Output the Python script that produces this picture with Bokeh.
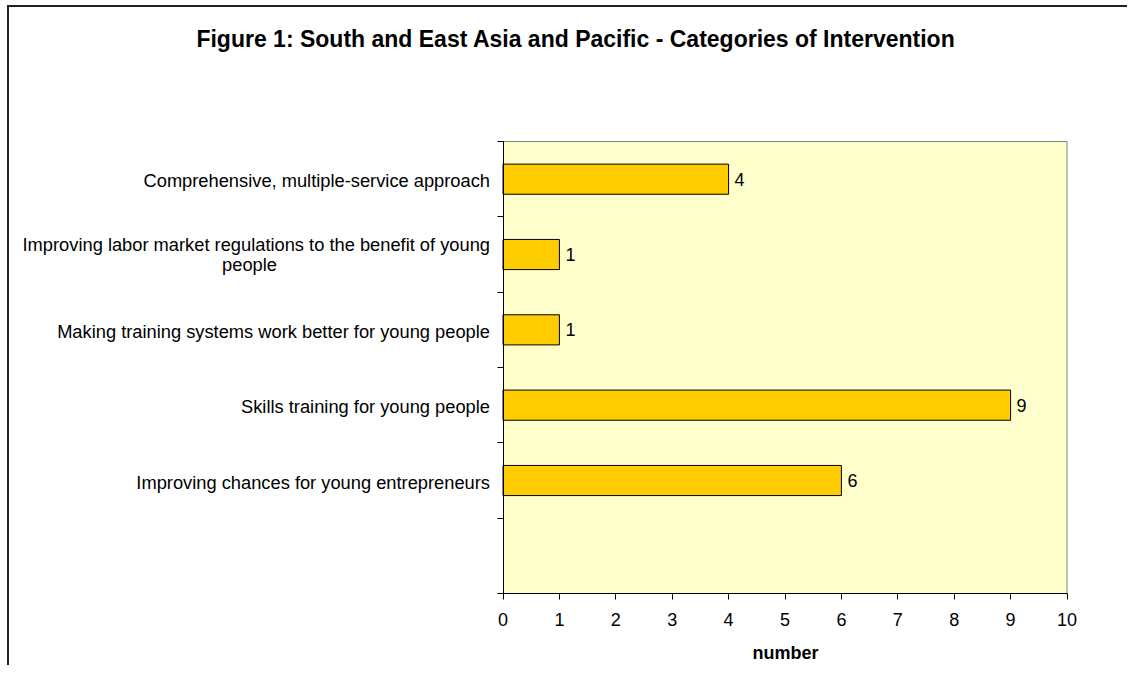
from bokeh.plotting import figure
from bokeh.models import Range1d, LinearAxis, FixedTicker, ColumnDataSource
from bokeh.embed import file_html
from bokeh.resources import INLINE
from bokeh.core.properties import value

# ---- data ----
categories = [
    "Improving chances for young entrepreneurs",
    "Skills training for young people",
    "Making training systems work better for young people",
    "Improving labor market regulations to the benefit of young people",
    "Comprehensive, multiple-service approach",
]
counts = [6, 9, 1, 1, 4]
# how each category label is broken into lines (as in the reference)
label_lines = [
    ["Improving chances for young entrepreneurs"],
    ["Skills training for young people"],
    ["Making training systems work better for young people"],
    ["Improving labor market regulations to the benefit of young", "people"],
    ["Comprehensive, multiple-service approach"],
]
x_ticks = [0, 1, 2, 3, 4, 5, 6, 7, 8, 9, 10]
title_text = "Figure 1: South and East Asia and Pacific - Categories of Intervention"
x_label = "number"

FONT = "Liberation Sans"
W, H = 1120, 660
X_MAX = 10
N_SLOTS = len(categories) + 1          # one empty slot at the bottom
PX_X = 56.4                            # pixels per x unit
PX_Y = 75.33                           # pixels per category slot
LEFT_PX, BOTTOM_PX = 493.5, 74         # plot-area origin inside the canvas

# category slot centres (slot 0 is the empty one at the bottom)
ypos = [i + 1.5 for i in range(len(categories))]

x0 = -LEFT_PX / PX_X
y0 = -BOTTOM_PX / PX_Y
p = figure(width=W, height=H, output_backend="svg", toolbar_location=None,
           x_range=Range1d(x0, x0 + W / PX_X), y_range=Range1d(y0, y0 + H / PX_Y),
           x_axis_location=None, y_axis_location=None,
           min_border=0, min_border_left=0, min_border_right=0,
           min_border_top=0, min_border_bottom=0)
p.outline_line_color = None
p.background_fill_color = "white"
p.border_fill_color = "white"
p.xgrid.visible = False
p.ygrid.visible = False

# plot area
p.quad(left=0, right=X_MAX, bottom=0, top=N_SLOTS, fill_color="#FFFFCC",
       line_color=None)
p.line(x=[0, X_MAX, X_MAX], y=[N_SLOTS, N_SLOTS, 0], line_color="#808080",
       line_width=1)

# bars
src = ColumnDataSource(dict(y=ypos, val=counts, lab=[str(v) for v in counts]))
p.hbar(y="y", right="val", left=0, height=0.4, source=src,
       fill_color="#FFCC00", line_color="black", line_width=1)
p.text(x="val", y="y", text="lab", source=src, x_offset=6,
       text_align="left", text_baseline="middle",
       text_font=value(FONT), text_font_size="18px", text_color="black")

# category labels
lt, ly, ldx, ldy, lal = [], [], [], [], []
for y, lines in zip(ypos, label_lines):
    if len(lines) == 1:
        lt.append(lines[0]); ly.append(y); ldx.append(-13); ldy.append(1.5)
        lal.append("right")
    else:
        lt.append(lines[0]); ly.append(y); ldx.append(-13); ldy.append(-10.5)
        lal.append("right")
        lt.append(lines[1]); ly.append(y); ldx.append(-253.5); ldy.append(9.5)
        lal.append("center")
lsrc = ColumnDataSource(dict(text=lt, y=ly, x=[0] * len(lt), dx=ldx, dy=ldy,
                             align=lal))
p.text(x="x", y="y", text="text", source=lsrc, x_offset="dx", y_offset="dy",
       text_align="align", text_baseline="alphabetic",
       text_font=value(FONT), text_font_size="18.3px", text_color="black")

# title
tsrc = ColumnDataSource(dict(x=[0], y=[N_SLOTS], text=[title_text]))
p.text(x="x", y="y", text="text", source=tsrc, x_offset=73, y_offset=-102.3,
       text_align="center", text_baseline="alphabetic",
       text_font=value(FONT), text_font_size="23px", text_font_style="bold",
       text_color="black")

# x axis
xa = LinearAxis(ticker=FixedTicker(ticks=x_ticks), fixed_location=0,
                bounds=(0, X_MAX))
xa.axis_line_color = "black"
xa.major_tick_line_color = "black"
xa.major_tick_out = 6
xa.major_tick_in = 0
xa.minor_tick_line_color = None
xa.major_label_text_font = FONT
xa.major_label_text_font_size = "18px"
xa.major_label_text_color = "black"
xa.major_label_standoff = 13
xa.axis_label = x_label
xa.axis_label_text_font = FONT
xa.axis_label_text_font_size = "18px"
xa.axis_label_text_font_style = "bold"
xa.axis_label_text_color = "black"
xa.axis_label_standoff = 14
p.add_layout(xa, "below")

# y axis: ticks at category boundaries, no labels
ta = LinearAxis(ticker=FixedTicker(ticks=list(range(N_SLOTS + 1))),
                fixed_location=0, bounds=(0, N_SLOTS))
ta.axis_line_color = "black"
ta.major_tick_line_color = "black"
ta.major_tick_out = 6
ta.major_tick_in = 0
ta.minor_tick_line_color = None
ta.major_label_text_font_size = "0px"
ta.major_label_text_color = None
ta.major_label_standoff = 0
p.add_layout(ta, "left")

p.styles = {"margin-left": "7px", "margin-top": "5px",
            "border-left": "2px solid #222", "border-top": "2px solid #222"}

open("out.html", "w").write(file_html(p, INLINE))
